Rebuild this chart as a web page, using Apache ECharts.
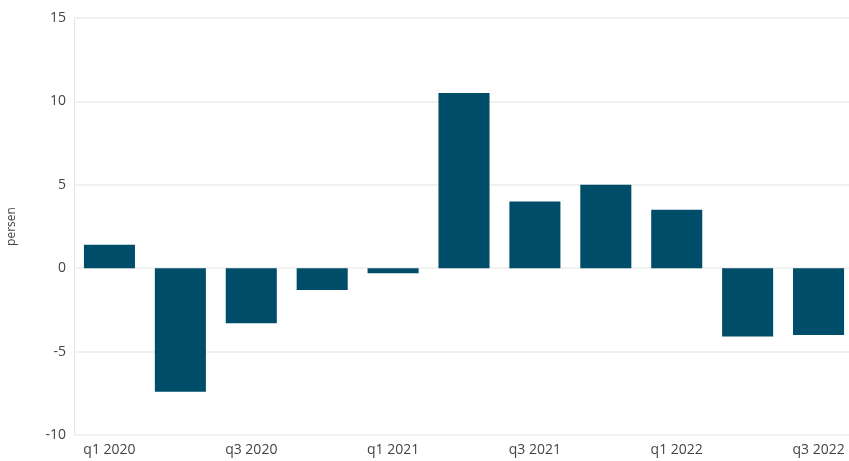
<!DOCTYPE html>
<html>
<head>
<meta charset="utf-8">
<script src="https://cdn.jsdelivr.net/npm/echarts@6/dist/echarts.min.js"></script>
<style>
  html, body { margin: 0; padding: 0; background: #fff; }
  #chart { width: 849px; height: 461px; }
</style>
</head>
<body>
<div id="chart"></div>
<script>
// kuartal
const categories = ['q1 2020', 'q2 2020', 'q3 2020', 'q4 2020', 'q1 2021', 'q2 2021',
  'q3 2021', 'q4 2021', 'q1 2022', 'q2 2022', 'q3 2022']
// nilai (persen)
const values = [1.4, -7.4, -3.3, -1.3, -0.3, 10.5, 4.0, 5.0, 3.5, -4.1, -4.0]
const yTicks = { min: -10, max: 15, interval: 5 }

const chart = echarts.init(document.getElementById('chart'))

chart.setOption({
  animation: false,
  grid: {
    left: 74,
    right: -5,
    top: 18,
    bottom: 26,
    outerBoundsMode: 'none'
  },
  xAxis: {
    type: 'category',
    data: categories,
    axisTick: { show: false },
    axisLine: { show: false, onZero: false },
    axisLabel: {
      interval: 1,
      color: '#444',
      fontSize: 14,
      fontFamily: 'Open Sans',
      margin: 8
    }
  },
  yAxis: {
    type: 'value',
    min: yTicks.min,
    max: yTicks.max,
    interval: yTicks.interval,
    name: 'persen',
    nameLocation: 'middle',
    nameGap: 56,
    nameTextStyle: {
      color: '#444',
      fontSize: 12,
      fontFamily: 'Open Sans'
    },
    axisLine: {
      show: true,
      lineStyle: { color: '#e6e6e6' }
    },
    axisTick: { show: false },
    axisLabel: {
      color: '#444',
      fontSize: 14,
      fontFamily: 'Open Sans',
      margin: 8
    },
    splitLine: {
      lineStyle: { color: '#ececec', width: 1.5 }
    }
  },
  series: [{
    type: 'bar',
    data: values,
    barCategoryGap: '28%',
    itemStyle: { color: '#004d69' }
  }]
})
</script>
</body>
</html>
